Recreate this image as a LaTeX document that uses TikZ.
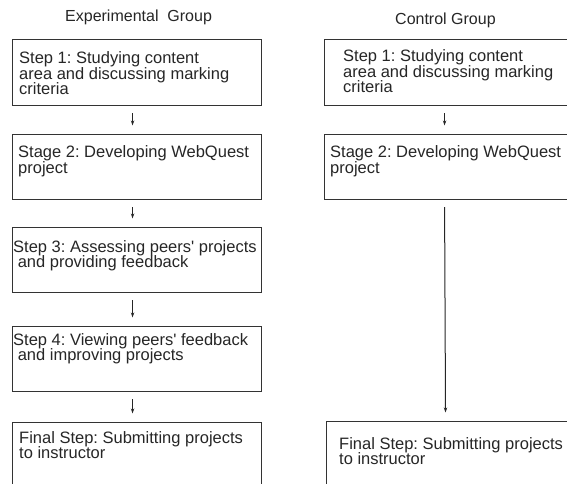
\documentclass[tikz,border=0pt]{standalone}
\usepackage{fontspec}
\setmainfont{Liberation Sans}
\usetikzlibrary{arrows.meta}
\frenchspacing

\begin{document}
\begin{tikzpicture}[x=1pt,y=-1pt,
    stepbox/.style={draw=black!80,line width=1.1pt,anchor=north west,inner sep=0pt,minimum width=249pt,minimum height=65pt},
    steptext/.style={anchor=base west,align=left,inner sep=0pt,text=black!85,font=\fontsize{16.5}{15.5}\selectfont},
    grouptitle/.style={anchor=base west,inner sep=0pt,text=black!85,font=\fontsize{16}{16}\selectfont},
    flow/.style={draw=black!85,line width=1pt,-{Stealth[length=5pt,width=3.4pt]},shorten <=7pt,shorten >=8.5pt}]
    \clip (0,0) rectangle (567,484);
    % group titles
    \node[grouptitle] (exptitle) at (65,22) {Experimental\ \ Group};
    \node[grouptitle] (ctrltitle) at (395,25) {Control Group};
    % experimental group (text nodes sit on their last line)
    \node[stepbox,minimum height=66pt] (e1) at (11.5,39) {};
    \node[stepbox] (e2) at (11.5,134) {};
    \node[stepbox] (e3) at (11.5,227) {};
    \node[stepbox] (e4) at (11.5,326) {};
    \node[stepbox,minimum height=90pt] (e5) at (11.5,422) {};
    \node[steptext] (e1t) at (19,95) {Step 1: Studying content\\area and discussing marking\\criteria};
    \node[steptext] (e2t) at (18,173) {Stage 2: Developing WebQuest\\project};
    \node[steptext] (e3t) at (13,267.5) {Step 3: Assessing peers\textquotesingle{} projects\\\ and providing feedback};
    \node[steptext] (e4t) at (13,360.5) {Step 4: Viewing peers\textquotesingle{} feedback\\\ and improving projects};
    \node[steptext] (e5t) at (19,458.5) {Final Step: Submitting projects\\to instructor};
    % control group
    \node[stepbox,minimum width=260pt,minimum height=66pt] (c1) at (324,39) {};
    \node[stepbox,minimum width=260pt] (c2) at (324,134) {};
    \node[stepbox,minimum width=260pt,minimum height=90pt] (c5) at (326,421) {};
    \node[steptext] (c1t) at (343,93) {Step 1: Studying content\\area and discussing marking\\criteria};
    \node[steptext] (c2t) at (330,173) {Stage 2: Developing WebQuest\\project};
    \node[steptext] (c5t) at (339,464.5) {Final Step: Submitting projects\\to instructor};
    % arrows
    \foreach \a/\b in {e1/e2,e2/e3,e3/e4,e4/e5}
      \draw[flow] ([xshift=-4pt]\a.south) -- ([xshift=-4pt]\b.north);
    \draw[flow] ([xshift=-10pt]c1.south) -- ([xshift=-10pt]c2.north);
    \draw[flow] ([xshift=-10pt]c2.south) -- ([xshift=-11pt]c5.north);
\end{tikzpicture}
\end{document}
